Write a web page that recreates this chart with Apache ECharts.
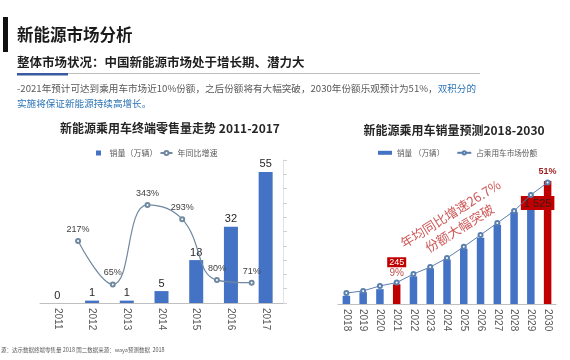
<!DOCTYPE html>
<html><head><meta charset="utf-8">
<script src="https://cdn.jsdelivr.net/npm/echarts@6/dist/echarts.min.js"></script>
<style>html,body{margin:0;padding:0;background:#fff}#c{width:570px;height:360px}</style>
</head><body><div id="c"></div>
<script>
// ---- data ----
const leftYears = ['2011','2012','2013','2014','2015','2016','2017'];
const leftSales = [0, 1, 1, 5, 18, 32, 55];
const leftGrowth = [null, 217, 65, 343, 293, 80, 71];
const rightYears = ['2018','2019','2020','2021','2022','2023','2024','2025','2026','2027','2028','2029','2030'];
const rightSales = [102, 147, 184, 245, 343, 442, 552, 687, 822, 982, 1141, 1325, 1525];
const rightShare = [4.6, 5.5, 7.6, 9, 12.6, 15.5, 19.3, 24, 29, 34, 39, 45.8, 51];
const highlightYears = ['2021', '2030'];

const CJK = '"Noto Sans CJK SC", sans-serif';
const NUM = '"Liberation Sans", "Noto Sans CJK SC", sans-serif';
const BLUE = '#4472c4', RED = '#c00000';

const fmtThousands = v => String(v).replace(/\B(?=(\d{3})+(?!\d))/g, ' ');

const rightBarData = rightYears.map((y, i) => {
  const hl = highlightYears.includes(y);
  const item = { value: rightSales[i], itemStyle: { color: hl ? RED : BLUE } };
  if (y === '2021') {
    item.label = { show: true, position: 'top', distance: 17, color: '#fff', backgroundColor: RED,
      fontSize: 9, padding: [1, 2, 0, 2], fontFamily: NUM, formatter: p => fmtThousands(p.value) };
  } else if (y === '2030') {
    item.label = { show: true, position: 'insideTop', offset: [-10, 10], color: '#3a1a1a', backgroundColor: RED,
      fontSize: 11, padding: [2, 3, 1, 3], fontFamily: NUM, formatter: p => fmtThousands(p.value) };
  }
  return item;
});
const rightShareData = rightYears.map((y, i) => {
  const item = { value: rightShare[i] };
  if (y === '2021') item.label = { show: true, position: 'top', distance: 1, color: '#c0504d', fontSize: 10, fontFamily: NUM, formatter: p => p.value + '%' };
  if (y === '2030') item.label = { show: true, position: 'top', distance: 3, color: '#9c1c1c', fontWeight: 'bold', fontSize: 9, fontFamily: NUM, formatter: p => p.value + '%' };
  return item;
});

const chart = echarts.init(document.getElementById('c'), null, { renderer: 'canvas' });
const xLabel = { rotate: -90, fontSize: 10, color: '#595959', fontFamily: NUM, margin: 5 };
chart.setOption({
  animation: false,
  textStyle: { fontFamily: CJK },
  grid: [
    { left: 40, right: 287, top: 160, bottom: 57 },
    { left: 26, right: 301, top: 160, bottom: 57 },
    { left: 338, right: 14, top: 167, bottom: 56 }
  ],
  xAxis: [
    { type: 'category', gridIndex: 0, data: leftYears, axisLine: { lineStyle: { color: '#bfbfbf' } },
      axisTick: { length: 4, lineStyle: { color: '#bfbfbf' } }, axisLabel: xLabel },
    { type: 'category', gridIndex: 1, data: leftYears, show: false },
    { type: 'category', gridIndex: 2, data: rightYears, axisLine: { lineStyle: { color: '#bfbfbf' } },
      axisTick: { length: 4, lineStyle: { color: '#bfbfbf' } }, axisLabel: xLabel }
  ],
  yAxis: [
    { type: 'value', gridIndex: 0, min: 0, max: 60, show: false },
    { type: 'value', gridIndex: 0, position: 'right', min: 0, max: 500, interval: 50,
      axisLine: { show: true, lineStyle: { color: '#e3e3e3' } }, axisTick: { show: true, length: 4, lineStyle: { color: '#d0d0d0' } },
      axisLabel: { show: false }, splitLine: { show: false } },
    { type: 'value', gridIndex: 1, min: 0, max: 500, show: false },
    { type: 'value', gridIndex: 2, min: 0, max: 1700, show: false },
    { type: 'value', gridIndex: 2, min: 0, max: 57.5, show: false }
  ],
  legend: [
    { left: 91, top: 144, itemWidth: 12, itemHeight: 5, itemGap: 2, textStyle: { fontSize: 8, color: '#595959', fontFamily: CJK },
      data: [ { name: '销量（万辆）', icon: 'path://M0,0h10v10h-10z' }, { name: '年同比增速' } ] },
    { left: 373, top: 144, itemWidth: 14, itemHeight: 4, itemGap: 12, textStyle: { fontSize: 7.6, color: '#595959', fontFamily: CJK },
      data: [ { name: '销量 （万辆）', icon: 'rect' }, { name: '占乘用车市场份额' } ] }
  ],
  series: [
    { name: '销量（万辆）', type: 'bar', xAxisIndex: 0, yAxisIndex: 0, data: leftSales, barWidth: 14,
      itemStyle: { color: BLUE },
      label: { show: true, position: 'top', distance: 2, fontSize: 11, color: '#262626', fontFamily: NUM } },
    { name: '年同比增速', type: 'line', xAxisIndex: 1, yAxisIndex: 2, data: leftGrowth, smooth: 0.45,
      symbol: 'emptyCircle', symbolSize: 4, lineStyle: { color: '#7088a0', width: 1.2 }, itemStyle: { color: '#7088a0' },
      label: { show: true, position: 'top', distance: 4, fontSize: 9, color: '#404040', fontFamily: NUM, formatter: p => p.value + '%' } },
    { name: '销量 （万辆）', type: 'bar', xAxisIndex: 2, yAxisIndex: 3, data: rightBarData, barWidth: 7.5,
      itemStyle: { color: BLUE } },
    { name: '占乘用车市场份额', type: 'line', xAxisIndex: 2, yAxisIndex: 4, data: rightShareData,
      symbol: 'emptyCircle', symbolSize: 4, lineStyle: { color: '#5a7fae', width: 1 }, itemStyle: { color: '#5a7fae' }, z: 3 }
  ],
  graphic: [
    { type: 'rect', shape: { x: 3, y: 17, width: 5, height: 35 }, style: { fill: '#111' } },
    { type: 'text', x: 17, y: 35, style: { text: '新能源市场分析', font: 'bold 16.5px ' + CJK, fill: '#1a1a1a', verticalAlign: 'middle' } },
    { type: 'text', x: 17, y: 62, style: { text: '整体市场状况：中国新能源市场处于增长期、潜力大', font: 'bold 12.5px ' + CJK, fill: '#1f1f1f', verticalAlign: 'middle' } },
    { type: 'line', shape: { x1: 17, y1: 73.5, x2: 480, y2: 73.5 }, style: { stroke: '#bfbfbf', lineWidth: 1 } },
    { type: 'rect', shape: { x: 17, y: 73, width: 51, height: 2.5 }, style: { fill: '#3a5ba0' } },
    { type: 'text', x: 17, y: 88, style: { text: '{a|-2021年预计可达到乘用车市场近10%份额，之后份额将有大幅突破，2030年份额乐观预计为51%，}{b|双积分的}',
        verticalAlign: 'middle', rich: { a: { fontSize: 9.6, fill: '#595959', fontFamily: CJK }, b: { fontSize: 9.6, fill: '#2e75b6', fontFamily: CJK } } } },
    { type: 'text', x: 17, y: 103, style: { text: '实施将保证新能源持续高增长。', font: '9.6px ' + CJK, fill: '#2e75b6', verticalAlign: 'middle' } },
    { type: 'text', x: 170, y: 128, style: { text: '新能源乘用车终端零售量走势 2011-2017', font: 'bold 12px ' + CJK, fill: '#262626', align: 'center', verticalAlign: 'middle' } },
    { type: 'text', x: 454, y: 130, style: { text: '新能源乘用车销量预测2018-2030', font: 'bold 12px ' + CJK, fill: '#262626', align: 'center', verticalAlign: 'middle' } },
    { type: 'text', x: 455, y: 221, rotation: 32 * Math.PI / 180, z: 10,
      style: { text: '年均同比增速26.7%\n份额大幅突破', font: '13px ' + CJK, fill: 'rgba(200,70,70,0.9)', align: 'center', verticalAlign: 'middle', lineHeight: 17 } },
    { type: 'text', x: 1, y: 350, style: { text: '源：达示数据终端零售量 2018 国二数据来源：waya预测数据  2018', font: '5.5px ' + CJK, fill: '#595959', verticalAlign: 'middle' } }
  ]
});
</script>
</body></html>
